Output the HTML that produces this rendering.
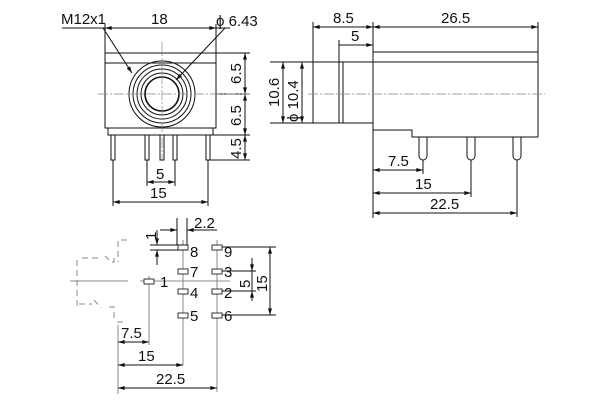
<!DOCTYPE html>
<html><head><meta charset="utf-8"><style>
body{margin:0;background:#fff;}
svg{display:block;font-family:"Liberation Sans",sans-serif;}
text{fill:#111;}
</style></head><body>
<svg width="600" height="400" viewBox="0 0 600 400">
<defs>
<marker id="a" viewBox="0 0 10 6" refX="10" refY="3" markerWidth="8" markerHeight="4" orient="auto-start-reverse"><path d="M0,0L10,3L0,6z" fill="#111"/></marker>
</defs>
<g stroke="#111" stroke-width="1" fill="none">
<rect x="105" y="53" width="111" height="75"/>
<line x1="105" y1="63" x2="216" y2="63"/>
<rect x="108" y="128" width="105" height="7"/>
<circle cx="162" cy="94" r="33"/><circle cx="162" cy="94" r="29"/><circle cx="162" cy="94" r="25"/><circle cx="162" cy="94" r="21"/><circle cx="162" cy="94" r="17" stroke-width="1.6"/>
<rect x="111" y="135" width="4" height="25"/><rect x="145" y="135" width="4" height="25"/><rect x="160" y="135" width="4" height="25"/><rect x="173" y="135" width="4" height="25"/><rect x="206" y="135" width="4" height="25"/>
<line x1="105" y1="53" x2="105" y2="24"/><line x1="216" y1="53" x2="216" y2="24"/>
<line x1="105" y1="28" x2="216" y2="28" marker-start="url(#a)" marker-end="url(#a)"/>
<line x1="62" y1="28" x2="105" y2="28"/><line x1="216" y1="28" x2="230" y2="28"/>
<line x1="103" y1="28" x2="132" y2="73" marker-end="url(#a)"/>
<line x1="225" y1="28" x2="176" y2="80" marker-end="url(#a)"/>
<line x1="216" y1="53" x2="250" y2="53"/><line x1="216" y1="94" x2="250" y2="94"/><line x1="213" y1="135" x2="250" y2="135"/><line x1="210" y1="160" x2="250" y2="160"/>
<line x1="245" y1="53" x2="245" y2="94" marker-start="url(#a)" marker-end="url(#a)"/>
<line x1="245" y1="94" x2="245" y2="135" marker-start="url(#a)" marker-end="url(#a)"/>
<line x1="245" y1="135" x2="245" y2="160" marker-start="url(#a)" marker-end="url(#a)"/>
<line x1="147" y1="160" x2="147" y2="186"/><line x1="175" y1="160" x2="175" y2="186"/>
<line x1="147" y1="182" x2="175" y2="182" marker-start="url(#a)" marker-end="url(#a)"/>
<line x1="113" y1="160" x2="113" y2="206"/><line x1="208" y1="160" x2="208" y2="206"/>
<line x1="113" y1="202" x2="208" y2="202" marker-start="url(#a)" marker-end="url(#a)"/>
<line x1="162" y1="42" x2="162" y2="160" stroke="#888" stroke-dasharray="10,2,2,2" stroke-width="0.7"/>
<line x1="98" y1="94" x2="250" y2="94" stroke="#888" stroke-dasharray="10,2,2,2" stroke-width="0.7"/>

<rect x="373" y="52" width="165" height="10"/>
<path d="M373,62V130H412V137H538V62"/>
<rect x="313" y="62" width="60" height="61"/>
<rect x="339" y="62" width="4" height="61"/>
<path d="M419,137V156a4,4 0 0 0 8,0V137"/><path d="M467,137V156a4,4 0 0 0 8,0V137"/><path d="M513,137V156a4,4 0 0 0 8,0V137"/>
<line x1="313" y1="62" x2="313" y2="22"/><line x1="373" y1="52" x2="373" y2="22"/><line x1="538" y1="52" x2="538" y2="22"/><line x1="339" y1="62" x2="339" y2="40"/>
<line x1="313" y1="27" x2="373" y2="27" marker-start="url(#a)" marker-end="url(#a)"/>
<line x1="373" y1="27" x2="538" y2="27" marker-start="url(#a)" marker-end="url(#a)"/>
<line x1="339" y1="45" x2="373" y2="45" marker-end="url(#a)"/>
<line x1="270" y1="62" x2="313" y2="62"/><line x1="270" y1="123" x2="313" y2="123"/>
<line x1="283" y1="62" x2="283" y2="123" marker-start="url(#a)" marker-end="url(#a)"/>
<line x1="302" y1="62" x2="302" y2="123" marker-start="url(#a)" marker-end="url(#a)"/>
<line x1="373" y1="130" x2="373" y2="218"/><line x1="423" y1="160" x2="423" y2="174"/><line x1="471" y1="160" x2="471" y2="197"/><line x1="517" y1="160" x2="517" y2="217"/>
<line x1="373" y1="170" x2="423" y2="170" marker-start="url(#a)" marker-end="url(#a)"/>
<line x1="373" y1="193" x2="471" y2="193" marker-start="url(#a)" marker-end="url(#a)"/>
<line x1="373" y1="213" x2="517" y2="213" marker-start="url(#a)" marker-end="url(#a)"/>
<line x1="308" y1="94" x2="545" y2="94" stroke="#888" stroke-dasharray="10,2,2,2" stroke-width="0.7"/>

<g stroke="#888">
<path d="M127,240H118V262M114,258V262H111L105,256M98,258H80M77,260V310M79,304H92M94,300L101,308M109,307H114V320M117,322H125" stroke-dasharray="6,4"/>
<line x1="70" y1="281" x2="128" y2="281"/><line x1="140" y1="281" x2="230" y2="281"/>
<line x1="183" y1="240" x2="183" y2="365"/><line x1="217" y1="240" x2="217" y2="392"/>
<line x1="149" y1="276" x2="149" y2="345"/>
<line x1="118" y1="325" x2="118" y2="394"/>
</g>
<g stroke="#333" fill="#fff">
<rect x="144" y="279" width="10" height="5"/>
<rect x="178" y="245" width="10" height="5"/><rect x="178" y="269" width="10" height="5"/><rect x="178" y="289" width="10" height="5"/><rect x="178" y="313" width="10" height="5"/>
<rect x="212" y="245" width="10" height="5"/><rect x="212" y="269" width="10" height="5"/><rect x="212" y="289" width="10" height="5"/><rect x="212" y="313" width="10" height="5"/>
</g>
<line x1="177" y1="218" x2="177" y2="245"/><line x1="187" y1="218" x2="187" y2="245"/>
<line x1="160" y1="230" x2="177" y2="230" marker-end="url(#a)"/><line x1="217" y1="230" x2="187" y2="230" marker-end="url(#a)"/>
<line x1="150" y1="245" x2="187" y2="245"/><line x1="150" y1="250" x2="187" y2="250"/>
<line x1="157" y1="230" x2="157" y2="245" marker-end="url(#a)"/><line x1="157" y1="265" x2="157" y2="250" marker-end="url(#a)"/>
<line x1="222" y1="247" x2="276" y2="247"/><line x1="222" y1="315" x2="276" y2="315"/>
<line x1="222" y1="271" x2="256" y2="271"/><line x1="222" y1="291" x2="256" y2="291"/>
<line x1="270" y1="247" x2="270" y2="315" marker-start="url(#a)" marker-end="url(#a)"/>
<line x1="252" y1="258" x2="252" y2="271" marker-end="url(#a)"/><line x1="252" y1="301" x2="252" y2="291" marker-end="url(#a)"/><line x1="252" y1="271" x2="252" y2="291"/>
<line x1="118" y1="342" x2="149" y2="342" marker-start="url(#a)" marker-end="url(#a)"/>
<line x1="118" y1="365" x2="183" y2="365" marker-start="url(#a)" marker-end="url(#a)"/>
<line x1="118" y1="388" x2="217" y2="388" marker-start="url(#a)" marker-end="url(#a)"/>
</g>
<g font-size="15">
<text x="61" y="24">M12x1</text>
<text x="151" y="24">18</text>
<text x="216" y="26" font-size="15">ϕ 6.43</text>
<text x="156" y="179">5</text>
<text x="150" y="198">15</text>
<text transform="translate(241,84) rotate(-90)">6.5</text>
<text transform="translate(241,126) rotate(-90)">6.5</text>
<text transform="translate(241,159) rotate(-90)">4.5</text>
<text x="333" y="23">8.5</text>
<text x="441" y="23">26.5</text>
<text x="351" y="41">5</text>
<text transform="translate(279,107) rotate(-90)">10.6</text>
<text transform="translate(298,122) rotate(-90)">ϕ 10.4</text>
<text x="388" y="166">7.5</text>
<text x="415" y="189">15</text>
<text x="430" y="209">22.5</text>
<text x="194" y="228">2.2</text>
<text transform="translate(156,240) rotate(-90)">1</text>
<text x="160" y="287">1</text>
<text x="190" y="257">8</text><text x="190" y="277">7</text><text x="190" y="298">4</text><text x="190" y="321">5</text>
<text x="224" y="257">9</text><text x="224" y="277">3</text><text x="224" y="298">2</text><text x="224" y="321">6</text>
<text transform="translate(250,288) rotate(-90)">5</text>
<text transform="translate(267,292) rotate(-90)">15</text>
<text x="121" y="338">7.5</text>
<text x="138" y="361">15</text>
<text x="156" y="384">22.5</text>
</g>
</svg>
</body></html>
